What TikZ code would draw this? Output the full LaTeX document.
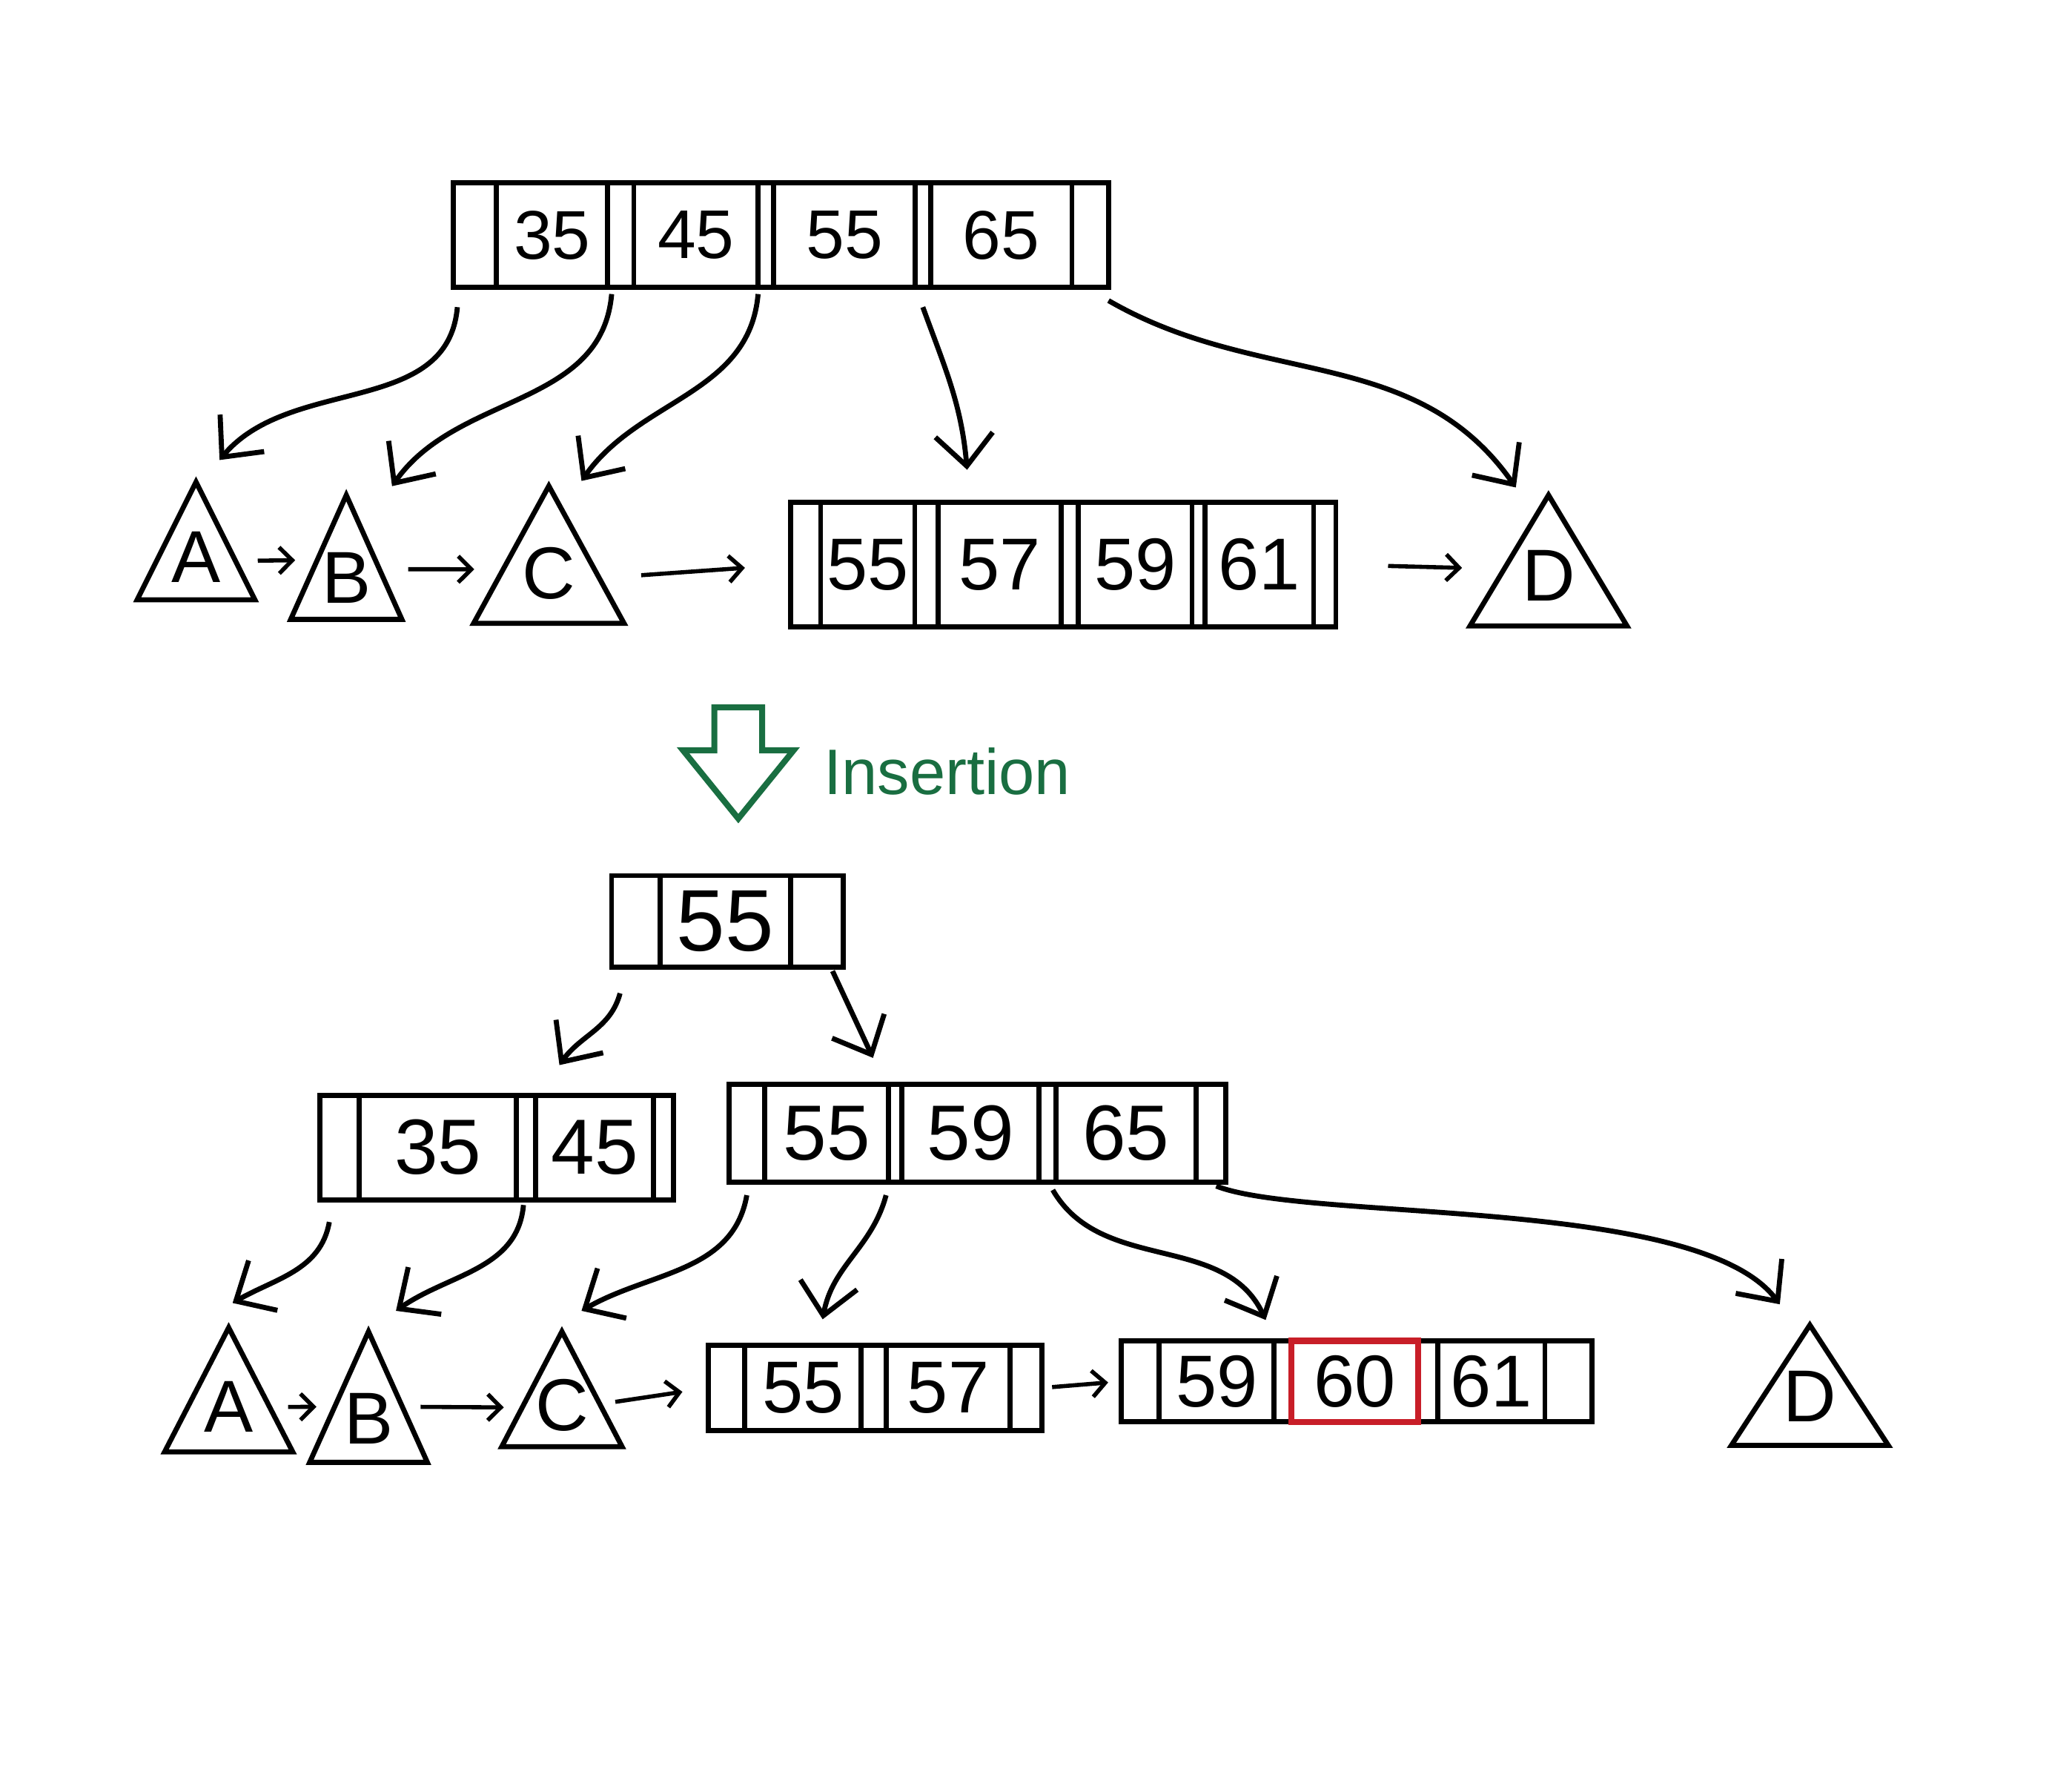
\documentclass[tikz,border=0pt]{standalone}
\usepackage{fontspec}
\setmainfont{Liberation Sans}
\usepackage{xcolor}
\usetikzlibrary{positioning,calc,shapes.geometric,shapes.arrows,arrows.meta}
\definecolor{inkgreen}{RGB}{25,110,65}
\definecolor{newkey}{RGB}{200,30,40}

\begin{document}
\begin{tikzpicture}[
    x=0.01cm, y=-0.01cm,
    cell/.style={draw, line width=1.1pt, inner sep=0pt, outer sep=0pt, minimum width=#1},
    tri/.style={draw, line width=1.1pt, isosceles triangle, isosceles triangle apex angle=60,
        shape border rotate=90, isosceles triangle stretches, inner sep=0pt,
        text height=0.1cm, text depth=0pt, anchor=apex, font=\fontsize{16}{18}\selectfont},
    arrow/.style={->, line width=1.1pt, >={Straight Barb[length=2.4mm,width=4.4mm]}},
    link/.style={->, line width=0.9pt, >={Straight Barb[length=1mm,width=2mm]}}
]
    \useasboundingbox (0,0) rectangle (1568,1371);

    % Before: root
    \begin{scope}[nodes={minimum height=0.8cm, font=\fontsize{15}{18}\selectfont}]
    \node[cell=0.33cm, anchor=west] (r0) at (347,180) {};
    \node[cell=0.85cm, right=0pt of r0] (r35) {35};
    \node[cell=0.20cm, right=0pt of r35] (r1) {};
    \node[cell=0.95cm, right=0pt of r1] (r45) {45};
    \node[cell=0.12cm, right=0pt of r45] (r2) {};
    \node[cell=1.08cm, right=0pt of r2] (r55) {55};
    \node[cell=0.12cm, right=0pt of r55] (r3) {};
    \node[cell=1.08cm, right=0pt of r3] (r65) {65};
    \node[cell=0.28cm, right=0pt of r65] (r4) {};
    \end{scope}

    % Before: leaves
    \node[tri, minimum width=0.9cm, minimum height=0.9cm] (A1) at (150,365) {A};
    \node[tri, minimum width=0.85cm, minimum height=0.95cm] (B1) at (265,375) {B};
    \node[tri, minimum width=1.15cm, minimum height=1.05cm] (C1) at (420,368) {C};
    \node[tri, minimum width=1.2cm, minimum height=1.0cm] (D1) at (1185,375) {D};

    \begin{scope}[nodes={minimum height=0.95cm, font=\fontsize{16}{19}\selectfont}]
    \node[cell=0.23cm, anchor=west] (a0) at (605,432) {};
    \node[cell=0.72cm, right=0pt of a0] (a55) {55};
    \node[cell=0.18cm, right=0pt of a55] (a1) {};
    \node[cell=0.94cm, right=0pt of a1] (a57) {57};
    \node[cell=0.13cm, right=0pt of a57] (a2) {};
    \node[cell=0.87cm, right=0pt of a2] (a59) {59};
    \node[cell=0.10cm, right=0pt of a59] (a3) {};
    \node[cell=0.83cm, right=0pt of a3] (a61) {61};
    \node[cell=0.17cm, right=0pt of a61] (a4) {};
    \end{scope}

    % Before: pointers
    \draw[arrow] ([xshift=0.3mm,yshift=-1.5mm]r0.south west) to[out=-95, in=50] ([xshift=1.8mm,yshift=1.3mm]A1.apex);
    \draw[arrow] ([xshift=-0.7mm,yshift=-0.5mm]r1.south) to[out=-95, in=55] ([xshift=3.5mm,yshift=0.3mm]B1.apex);
    \draw[arrow] ([xshift=-0.6mm,yshift=-0.5mm]r2.south) to[out=-95, in=55] ([xshift=2.5mm]C1.apex);
    \draw[arrow] ([yshift=-1.5mm]r3.south) to[out=-70, in=95] ([xshift=-2.5mm,yshift=2.5mm]a57.north);
    \draw[arrow] ([yshift=-1mm]r4.south east) to[out=-30, in=125] ([xshift=-2.5mm,yshift=0.2mm]D1.apex);

    \draw[link, shorten <=1.5mm, shorten >=1.5mm] ($(A1.apex)!0.67!(A1.right corner)$) -- ($(B1.apex)!0.53!(B1.left corner)$);
    \draw[link, shorten <=2mm, shorten >=2mm] ($(B1.apex)!0.6!(B1.right corner)$) -- ($(C1.apex)!0.61!(C1.left corner)$);
    \draw[link, shorten <=3mm, shorten >=3.5mm] ($(C1.apex)!0.67!(C1.right corner)$) -- (a0.west);
    \draw[link, shorten <=4mm, shorten >=3mm] (a4.east) -- ($(D1.apex)!0.57!(D1.left corner)$);

    % Insertion step
    \node[single arrow, draw=inkgreen, line width=1.3pt, shape border rotate=270,
        minimum height=0.85cm, minimum width=0.8cm, inner sep=0.16cm,
        single arrow head extend=0.24cm, single arrow tip angle=78, anchor=tip] (ins) at (565,630) {};
    \node[font=\fontsize{14}{16}\selectfont, text=inkgreen, anchor=west] (ins-label) at (618,590) {Insertion};

    % After: root
    \begin{scope}[nodes={minimum height=0.7cm, font=\fontsize{19}{22}\selectfont}]
    \node[cell=0.37cm, anchor=west] (s0) at (468,705) {};
    \node[cell=1.0cm, right=0pt of s0] (s55) {55};
    \node[cell=0.4cm, right=0pt of s55] (s1) {};
    \end{scope}

    % After: inner nodes
    \begin{scope}[nodes={minimum height=0.8cm, font=\fontsize{17}{20}\selectfont}]
    \node[cell=0.30cm, anchor=west] (u0) at (245,878) {};
    \node[cell=1.20cm, right=0pt of u0] (u35) {35};
    \node[cell=0.15cm, right=0pt of u35] (u1) {};
    \node[cell=0.90cm, right=0pt of u1] (u45) {45};
    \node[cell=0.15cm, right=0pt of u45] (u2) {};
    \end{scope}

    \begin{scope}[nodes={minimum height=0.75cm, font=\fontsize{17}{20}\selectfont}]
    \node[cell=0.27cm, anchor=west] (v0) at (558,867) {};
    \node[cell=0.95cm, right=0pt of v0] (v55) {55};
    \node[cell=0.10cm, right=0pt of v55] (v1) {};
    \node[cell=1.05cm, right=0pt of v1] (v59) {59};
    \node[cell=0.13cm, right=0pt of v59] (v2) {};
    \node[cell=1.07cm, right=0pt of v2] (v65) {65};
    \node[cell=0.23cm, right=0pt of v65] (v3) {};
    \end{scope}

    % After: leaves
    \node[tri, minimum width=0.98cm, minimum height=0.95cm] (A2) at (175,1012) {A};
    \node[tri, minimum width=0.9cm, minimum height=1.0cm] (B2) at (282,1015) {B};
    \node[tri, minimum width=0.92cm, minimum height=0.88cm] (C2) at (430,1015) {C};
    \node[tri, minimum width=1.2cm, minimum height=0.92cm] (D2) at (1385,1010) {D};

    \begin{scope}[nodes={minimum height=0.65cm, font=\fontsize{16}{18}\selectfont}]
    \node[cell=0.28cm, anchor=west] (m0) at (542,1062) {};
    \node[cell=0.89cm, right=0pt of m0] (m55) {55};
    \node[cell=0.19cm, right=0pt of m55] (m1) {};
    \node[cell=0.95cm, right=0pt of m1] (m57) {57};
    \node[cell=0.24cm, right=0pt of m57] (m2) {};
    \end{scope}

    \begin{scope}[nodes={minimum height=0.62cm, font=\fontsize{16}{18}\selectfont}]
    \node[cell=0.29cm, anchor=west] (n0) at (858,1057) {};
    \node[cell=0.88cm, right=0pt of n0] (n59) {59};
    \node[cell=0.13cm, right=0pt of n59] (n1) {};
    \node[cell=0.97cm, right=0pt of n1] (n60) {60};
    \node[cell=0.15cm, right=0pt of n60] (n2) {};
    \node[cell=0.82cm, right=0pt of n2] (n61) {61};
    \node[cell=0.36cm, right=0pt of n61] (n3) {};
    \end{scope}
    \draw[newkey, line width=1.3pt] (n60.north west) rectangle (n60.south east);

    % After: pointers
    \draw[arrow] ([xshift=-1.2mm,yshift=-2mm]s0.south) to[out=-105, in=55] ([xshift=-2.7mm,yshift=2.3mm]u45.north);
    \draw[arrow] ([xshift=1.2mm,yshift=-0.3mm]s1.south) -- ([xshift=-1.7mm,yshift=2mm]v1.north);

    \draw[arrow] ([xshift=-0.8mm,yshift=-1.7mm]u0.south) to[out=-100, in=30] ([xshift=0.3mm,yshift=1.5mm]A2.apex);
    \draw[arrow] ([xshift=-0.2mm,yshift=-0.4mm]u1.south) to[out=-95, in=35] ([xshift=2.1mm,yshift=1.2mm]B2.apex);
    \draw[arrow] ([yshift=-1mm]v0.south) to[out=-100, in=30] ([xshift=1.5mm,yshift=1.2mm]C2.apex);
    \draw[arrow] ([xshift=-0.7mm,yshift=-1mm]v1.south) to[out=-105, in=80] ([xshift=1.5mm,yshift=2mm]m55.north);
    \draw[arrow] ([xshift=0.4mm,yshift=-0.6mm]v2.south) to[out=-60, in=115] ([xshift=-1.3mm,yshift=1.6mm]n1.north);
    \draw[arrow] ([xshift=0.4mm,yshift=-0.3mm]v3.south) .. controls (1000,935) and (1300,915) .. ([xshift=-2.3mm,yshift=1.2mm]D2.apex);

    \draw[link, shorten <=1.2mm, shorten >=1.2mm] ($(A2.apex)!0.64!(A2.right corner)$) -- ($(B2.apex)!0.58!(B2.left corner)$);
    \draw[link, shorten <=1.2mm, shorten >=1.2mm] ($(B2.apex)!0.58!(B2.right corner)$) -- ($(C2.apex)!0.66!(C2.left corner)$);
    \draw[link, shorten <=1mm, shorten >=2mm] ($(C2.apex)!0.63!(C2.right corner)$) -- (m0.west);
    \draw[link, shorten <=0.8mm, shorten >=1mm] (m2.east) -- (n0.west);
\end{tikzpicture}
\end{document}
